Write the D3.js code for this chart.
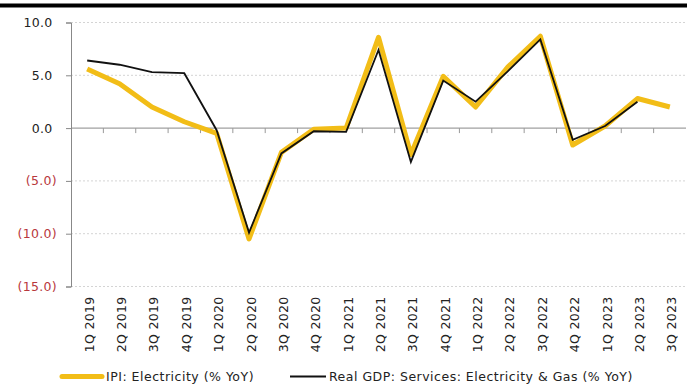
<!DOCTYPE html>
<html>
<head>
<meta charset="utf-8">
<script src="https://cdn.jsdelivr.net/npm/d3@7"></script>
<style>
  html, body { margin: 0; padding: 0; background: #fff; }
  svg { display: block; font-family: "DejaVu Sans", Verdana, sans-serif; }
</style>
</head>
<body>
<svg id="chart" width="692" height="389"></svg>
<script>
// Quarterly periods
const quarters = ["1Q 2019","2Q 2019","3Q 2019","4Q 2019","1Q 2020","2Q 2020","3Q 2020","4Q 2020",
  "1Q 2021","2Q 2021","3Q 2021","4Q 2021","1Q 2022","2Q 2022","3Q 2022","4Q 2022",
  "1Q 2023","2Q 2023","3Q 2023"];

// IPI: Electricity (% YoY)
const ipiElectricity = [5.6, 4.2, 2.0, 0.6, -0.5, -10.5, -2.3, -0.1, 0.0, 8.6, -2.5, 4.9,
  2.0, 5.8, 8.7, -1.6, 0.2, 2.8, 2.0];

// Real GDP: Services: Electricity & Gas (% YoY)
const gdpElectricityGas = [6.4, 6.0, 5.3, 5.2, -0.2, -9.9, -2.4, -0.3, -0.35, 7.4, -3.2, 4.5,
  2.5, 5.4, 8.4, -1.1, 0.2, 2.5, null];

const yTicks = [10, 5, 0, -5, -10, -15];
const seriesNames = ["IPI: Electricity (% YoY)", "Real GDP: Services: Electricity & Gas (% YoY)"];

const svg = d3.select("#chart");
const plotLeft = 71, plotRight = 686, plotTop = 22.5, plotBottom = 286.5;
const fontSize = 12.5;

// top rule
svg.append("rect").attr("x", 0).attr("y", 3.5).attr("width", 687).attr("height", 4).attr("fill", "#000");

const x = d3.scaleBand().domain(quarters).range([plotLeft, plotRight]);
const y = d3.scaleLinear().domain([-15, 10]).range([plotBottom, plotTop]);

const fmt = v => v < 0 ? `(${d3.format(".1f")(-v)})` : d3.format(".1f")(v);

// gridlines
svg.append("g").selectAll("line").data(yTicks.filter(v => v !== 0)).join("line")
  .attr("x1", plotLeft).attr("x2", plotRight)
  .attr("y1", d => y(d)).attr("y2", d => y(d))
  .attr("stroke", "#d4d4d4").attr("stroke-width", 1).attr("stroke-dasharray", "2,2");

// y axis; positives leave room for the closing parenthesis so the decimals line up
const yAxis = svg.append("g").attr("transform", `translate(${plotLeft},0)`)
  .call(d3.axisLeft(y).tickValues(yTicks).tickFormat(fmt).tickSize(5).tickPadding(9));
yAxis.select(".domain").attr("stroke", "#888");
yAxis.selectAll(".tick line").attr("stroke", "#888");
yAxis.selectAll("text")
  .attr("font-size", fontSize)
  .attr("font-family", "DejaVu Sans, sans-serif")
  .attr("letter-spacing", 0.3)
  .attr("dx", d => d < 0 ? 0 : -4.5)
  .attr("fill", d => d < 0 ? "#b8383d" : "#222");

// x axis at zero line
const xAxis = svg.append("g").attr("transform", `translate(0,${y(0)})`)
  .call(d3.axisBottom(x).tickSize(5).tickFormat(""));
xAxis.select(".domain").attr("stroke", "#888").attr("d", `M${plotLeft},0H${plotRight}`);
xAxis.selectAll(".tick line").attr("stroke", "#999")
  .attr("transform", `translate(${x.bandwidth() / 2},0)`);
xAxis.selectAll(".tick").filter(d => d === quarters[quarters.length - 1]).remove();

// category labels below the plot
svg.append("g").selectAll("text").data(quarters).join("text")
  .attr("transform", d => `translate(${x(d) + x.bandwidth() / 2 + 6.5},${plotBottom + 10}) rotate(-90)`)
  .attr("text-anchor", "end")
  .attr("font-size", fontSize)
  .attr("letter-spacing", 0.3)
  .attr("fill", "#222")
  .text(d => d);

const line = d3.line()
  .defined(d => d != null)
  .x((d, i) => x(quarters[i]) + x.bandwidth() / 2)
  .y(d => y(d));

svg.append("path").datum(ipiElectricity)
  .attr("d", line).attr("fill", "none")
  .attr("stroke", "#f2bd17").attr("stroke-width", 5).attr("stroke-linejoin", "round");

svg.append("path").datum(gdpElectricityGas)
  .attr("d", line).attr("fill", "none")
  .attr("stroke", "#111").attr("stroke-width", 1.8).attr("stroke-linejoin", "miter");

// legend
const ly = 376.5;
const leg = svg.append("g");
leg.append("line").attr("x1", 62).attr("x2", 102).attr("y1", ly).attr("y2", ly)
  .attr("stroke", "#f2bd17").attr("stroke-width", 5).attr("stroke-linecap", "round");
leg.append("text").attr("x", 106).attr("y", ly + 4.5).attr("font-size", fontSize)
  .attr("letter-spacing", 0.5).attr("fill", "#222")
  .text(seriesNames[0]);
leg.append("line").attr("x1", 290).attr("x2", 326).attr("y1", ly).attr("y2", ly)
  .attr("stroke", "#111").attr("stroke-width", 1.8);
leg.append("text").attr("x", 329).attr("y", ly + 4.5).attr("font-size", fontSize)
  .attr("letter-spacing", 0.5).attr("fill", "#222")
  .text(seriesNames[1]);
</script>
</body>
</html>
